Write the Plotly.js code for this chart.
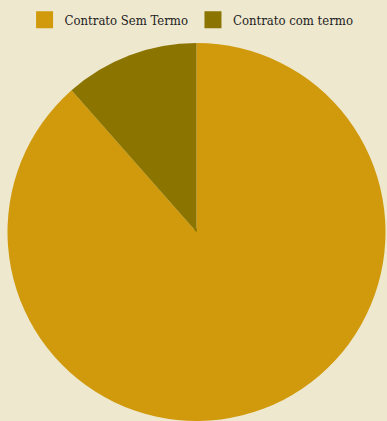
<!DOCTYPE html>
<html><head><meta charset="utf-8">
<script src="https://cdn.plot.ly/plotly-3.0.1.min.js"></script>
<style>html,body{margin:0;padding:0;background:#EEE8CF;}</style>
</head><body>
<div id="chart" style="width:387px;height:421px;"></div>
<script>
const labels = ["Contrato Sem Termo", "Contrato com termo"];
const values = [88.5, 11.5];
const colors = ["#D09A0C", "#8B7500"];

const common = {
  type: "pie",
  labels: labels,
  values: values,
  textinfo: "none",
  hoverinfo: "label+percent",
  sort: false,
  direction: "clockwise",
  rotation: 0
};

Plotly.newPlot("chart", [
  Object.assign({}, common, {
    name: "legend",
    marker: {colors: colors, line: {width: 6, color: colors}},
    domain: {x: [0.5, 0.501], y: [0.5, 0.501]},
    showlegend: true,
    hoverinfo: "skip"
  }),
  Object.assign({}, common, {
    name: "main",
    marker: {colors: colors, line: {width: 0}},
    showlegend: false
  })
], {
  width: 387, height: 421,
  paper_bgcolor: "#EEE8CF",
  plot_bgcolor: "#EEE8CF",
  margin: {l: 7, r: 1, t: 43, b: 0},
  showlegend: true,
  legend: {
    orientation: "h", x: 0.487, xanchor: "center", y: 1.022, yanchor: "bottom",
    font: {family: "DejaVu Serif Condensed, DejaVu Serif", size: 13, color: "#222"},
    bgcolor: "rgba(0,0,0,0)"
  }
}, {displayModeBar: false});
</script>
</body></html>
